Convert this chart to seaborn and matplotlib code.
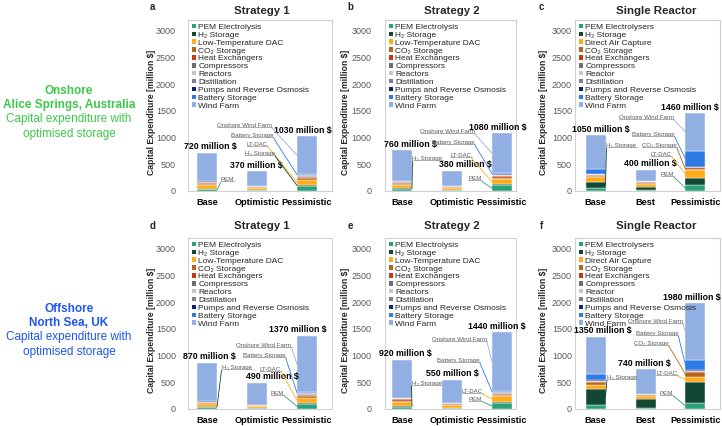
import numpy as np
import pandas as pd
import seaborn as sns
import matplotlib.pyplot as plt
from matplotlib.patches import Patch
from matplotlib.lines import Line2D
from matplotlib.text import Text

# components, bottom of the stack first
parts_strategy = ["PEM Electrolysis", "H₂ Storage", "Low-Temperature DAC", "CO₂ Storage",
                  "Heat Exchangers", "Compressors", "Reactors", "Distillation",
                  "Pumps and Reverse Osmosis", "Battery Storage", "Wind Farm"]
parts_reactor = ["PEM Electrolysers", "H₂ Storage", "Direct Air Capture", "CO₂ Storage",
                 "Heat Exchangers", "Compressors", "Reactor", "Distillation",
                 "Pumps and Reverse Osmosis", "Battery Storage", "Wind Farm"]
part_colors = ["#27a27b", "#124734", "#ffab1a", "#b5651d", "#c8390f", "#6e6a78",
               "#c4c4c4", "#857c93", "#0b2474", "#2e7be6", "#92afe3"]

cases_strategy = ["Base", "Optimistic", "Pessimistic"]
cases_reactor = ["Base", "Best", "Pessimistic"]

# capital expenditure [million $], one row per component, columns = cases
onshore_s1 = [[32, 15, 95], [8, 4, 15], [75, 37, 105], [15, 10, 20], [25, 12, 28],
              [10, 8, 12], [6, 5, 8], [6, 5, 8], [2, 1, 4], [6, 3, 20], [535, 270, 715]]
onshore_s2 = [[40, 18, 105], [15, 5, 18], [55, 38, 100], [18, 10, 20], [25, 12, 30],
              [10, 7, 15], [8, 4, 10], [8, 4, 10], [3, 1, 5], [10, 2, 22], [568, 279, 745]]
onshore_sr = [[60, 25, 105], [105, 55, 140], [90, 50, 145], [25, 25, 30], [20, 15, 20],
              [8, 5, 6], [5, 3, 4], [5, 3, 4], [2, 1, 2], [95, 3, 295], [635, 215, 709]]
offshore_s1 = [[30, 12, 100], [10, 4, 15], [55, 35, 100], [12, 8, 20], [18, 10, 28],
               [6, 5, 12], [4, 3, 8], [4, 3, 8], [2, 1, 4], [4, 2, 15], [725, 407, 1060]]
offshore_s2 = [[43, 22, 110], [17, 5, 25], [75, 45, 110], [20, 12, 15], [25, 15, 28],
               [10, 6, 12], [8, 3, 8], [8, 3, 8], [2, 1, 4], [5, 3, 20], [707, 435, 1100]]
offshore_sr = [[68, 25, 118], [304, 167, 378], [80, 50, 112], [50, 25, 80], [20, 12, 20],
               [5, 3, 6], [3, 2, 3], [3, 1, 3], [2, 1, 2], [115, 3, 196], [700, 451, 1062]]

# leader-line labels: text, component, case, label x, label y
notes_a = [("Onshore Wind Farm", 10, 2, 0.75, 1225), ("Battery Storage", 9, 2, 0.91, 1030),
           ("LT-DAC", 2, 2, 1.01, 870), ("H₂ Storage", 1, 2, 1.06, 700), ("PEM", 0, 0, 0.41, 215)]
notes_b = [("H₂ Storage", 1, 0, 0.51, 610), ("Onshore Wind Farm", 10, 2, 0.91, 1110),
           ("Battery Storage", 9, 2, 1.03, 910), ("LT-DAC", 2, 2, 1.18, 655), ("PEM", 0, 2, 1.46, 225)]
notes_c = [("H₂ Storage", 1, 0, 0.52, 855), ("Onshore Wind Farm", 10, 2, 1.02, 1375),
           ("Battery Storage", 9, 2, 1.16, 1055), ("CO₂ Storage", 3, 2, 1.28, 855),
           ("LT-DAC", 2, 2, 1.32, 674), ("PEM", 0, 2, 1.44, 305)]
notes_d = [("H₂ Storage", 1, 0, 0.59, 773), ("Onshore Wind Farm", 10, 2, 1.14, 1197),
           ("Battery Storage", 9, 2, 1.15, 997), ("LT-DAC", 2, 2, 1.27, 748), ("PEM", 0, 2, 1.41, 294)]
notes_e = [("H₂ Storage", 1, 0, 0.49, 480), ("Onshore Wind Farm", 10, 2, 1.15, 1300),
           ("Battery Storage", 9, 2, 1.13, 910), ("LT-DAC", 2, 2, 1.41, 324), ("PEM", 0, 2, 1.47, 187)]
notes_f = [("H₂ Storage", 1, 0, 0.53, 595), ("Onshore Wind Farm", 10, 2, 1.2, 1635),
           ("Battery Storage", 9, 2, 1.23, 1416), ("CO₂ Storage", 3, 2, 1.12, 1229),
           ("LT-DAC", 2, 2, 1.43, 667), ("PEM", 0, 2, 1.42, 294)]

panels = [
    dict(letter="a", title="Strategy 1", parts=parts_strategy, cases=cases_strategy, capex=onshore_s1,
         notes=notes_a, col=0, row=0, shift=[3, -0.5, -4]),
    dict(letter="b", title="Strategy 2", parts=parts_strategy, cases=cases_strategy, capex=onshore_s2,
         notes=notes_b, col=1, row=0, shift=[8, 13, -4]),
    dict(letter="c", title="Single Reactor", parts=parts_reactor, cases=cases_reactor, capex=onshore_sr,
         notes=notes_c, col=2, row=0, shift=[5.5, 5, -5.7]),
    dict(letter="d", title="Strategy 1", parts=parts_strategy, cases=cases_strategy, capex=offshore_s1,
         notes=notes_d, col=0, row=1, shift=[2, 15.7, -9]),
    dict(letter="e", title="Strategy 2", parts=parts_strategy, cases=cases_strategy, capex=offshore_s2,
         notes=notes_e, col=1, row=1, shift=[3, 0, -5]),
    dict(letter="f", title="Single Reactor", parts=parts_reactor, cases=cases_reactor, capex=offshore_sr,
         notes=notes_f, col=2, row=1, shift=[7, -1, -3.5]),
]

# layout in pixels
W, H = 722, 426
col_left = [188, 385, 575]
col_right = [332, 516, 720]
col_base = [207, 402, 595.5]
tick_pad = [8.6, 9.5, 2.2]
title_x = [261.5, 451.7, 656.7]
letter_x = [152.7, 350, 541]
ylabel_x = [152, 345, 543]
row_top = [20, 238]
row_zero = [191, 409]
title_y = [11, 226]
letter_y = [7, 226]


def fx(px):
    return px / W


def fy(py):
    return 1 - py / H


sns.set_theme(style="white")
plt.rcParams["font.family"] = ["Liberation Sans", "DejaVu Sans"]

fig = plt.figure(figsize=(7.22, 4.26), dpi=100)
drawn_notes = []

for p in panels:
    c, r = p["col"], p["row"]
    left, right, base = col_left[c], col_right[c], col_base[c]
    ax = fig.add_axes([fx(left), fy(row_zero[r]), (right - left) / W, (row_zero[r] - row_top[r]) / H])
    values = np.array(p["capex"])
    n_cases = len(p["cases"])
    df = pd.DataFrame({"case": np.tile(np.arange(n_cases), len(p["parts"])),
                       "part": np.repeat(p["parts"], n_cases),
                       "capex": values.ravel()})
    sns.histplot(data=df, x="case", weights="capex", hue="part", hue_order=p["parts"][::-1],
                 palette=dict(zip(p["parts"], part_colors)), multiple="stack", discrete=True,
                 shrink=0.4, alpha=1, edgecolor="white", linewidth=0.3, legend=False, ax=ax)
    ax.set_xlim((left - base) / 50, (right - base) / 50)
    ax.set_ylim(0, 3200)
    ax.set_yticks(range(0, 3001, 500))
    ax.set_xticks(range(n_cases))
    ax.set_xticklabels(p["cases"])
    ax.set_xlabel("")
    ax.set_ylabel("")
    ax.tick_params(axis="y", length=0, pad=tick_pad[c], labelsize=6.5, labelcolor="#595959")
    ax.tick_params(axis="x", length=0, pad=5, labelsize=6.6, labelcolor="black")
    for t in ax.get_xticklabels():
        t.set_fontweight("bold")
    for s in ax.spines.values():
        s.set_visible(True)
        s.set_color("#d0d0d0")
        s.set_linewidth(0.8)

    handles = [Patch(facecolor=col, edgecolor="none", label=lab) for lab, col in zip(p["parts"], part_colors)]
    ax.legend(handles=handles, loc="upper left", bbox_to_anchor=(0, 1), fontsize=6, frameon=False,
              handlelength=0.45, handleheight=0.45, handletextpad=0.35, labelspacing=0.08,
              borderaxespad=0.15, borderpad=0.3)

    totals = values.sum(axis=0)
    for i, tot in enumerate(totals):
        ax.annotate(f"{tot} million $", xy=(i, tot), xytext=(p["shift"][i] * 0.72, 1),
                    textcoords="offset points", ha="center", va="bottom",
                    fontsize=6.3, fontweight="bold", color="black", annotation_clip=False)

    cum = values.cumsum(axis=0)
    for txt, k, i, tx, ty in p["notes"]:
        y_mid = cum[k, i] - values[k, i] / 2
        bx = i - 0.2 if tx < i else i + 0.2
        relpos = (1, 0) if bx > tx else (0, 0)
        a = ax.annotate(txt, xy=(bx, y_mid), xytext=(tx, ty), ha="center", va="center",
                        fontsize=4.4, color="#595959", annotation_clip=False,
                        arrowprops=dict(arrowstyle="-", color=part_colors[k], lw=0.6,
                                        shrinkA=0, shrinkB=0, patchA=None, relpos=relpos))
        drawn_notes.append(a)

    fig.text(fx(title_x[c]), fy(title_y[r]), p["title"], ha="center", va="center",
             fontsize=8.2, fontweight="bold")
    fig.text(fx(letter_x[c]), fy(letter_y[r]), p["letter"], ha="center", va="center",
             fontsize=7, fontweight="bold")
    fig.text(fx(ylabel_x[c]), fy((row_top[r] + row_zero[r]) / 2 + 7), "Capital Expenditure [million $]",
             rotation=90, ha="center", va="center", fontsize=6.2, fontweight="bold")

# row captions on the left
onshore_color = "#3cc84a"
offshore_color = "#1f55f0"
for py, txt, bold in [(91, "Onshore", True), (105, "Alice Springs, Australia", True),
                      (119, "Capital expenditure with", False), (134, "optimised storage", False)]:
    fig.text(fx(69), fy(py), txt, ha="center", va="center", fontsize=8.5,
             fontweight="bold" if bold else "normal", color=onshore_color)
for py, txt, bold in [(309, "Offshore", True), (323, "North Sea, UK", True),
                      (337, "Capital expenditure with", False), (352, "optimised storage", False)]:
    fig.text(fx(69), fy(py), txt, ha="center", va="center", fontsize=8.5,
             fontweight="bold" if bold else "normal", color=offshore_color)

# underline the leader-line labels
fig.canvas.draw()
renderer = fig.canvas.get_renderer()
inv = fig.transFigure.inverted()
for a in drawn_notes:
    bb = Text.get_window_extent(a, renderer)
    (x0, y0), (x1, _) = inv.transform([(bb.x0, bb.y0 + 1), (bb.x1, bb.y0 + 1)])
    fig.add_artist(Line2D([x0, x1], [y0, y0], transform=fig.transFigure, color="#8c8c8c", lw=0.5))

fig.savefig("out.png", dpi=100)
